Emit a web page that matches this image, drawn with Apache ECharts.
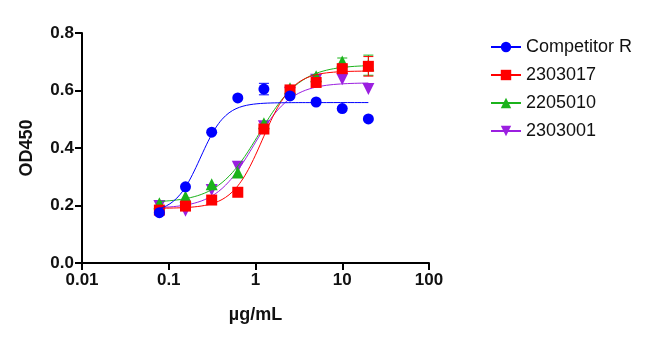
<!DOCTYPE html>
<html><head><meta charset="utf-8">
<script src="https://cdn.jsdelivr.net/npm/echarts@6/dist/echarts.min.js"></script>
<style>html,body{margin:0;padding:0;background:#fff}#c{width:650px;height:343px}</style>
</head><body><div id="c"></div>
<script>
// concentrations (µg/mL)
var conc = [0.078, 0.156, 0.3125, 0.625, 1.25, 2.5, 5, 10, 20];
var seriesNames = ['Competitor R', '2303017', '2205010', '2303001'];
// mean OD450 values
var compR   = [0.175, 0.265, 0.455, 0.574, 0.605, 0.581, 0.560, 0.537, 0.501];
var s2303017 = [0.184, 0.198, 0.219, 0.246, 0.466, 0.602, 0.628, 0.676, 0.684];
var s2205010 = [0.208, 0.231, 0.274, 0.315, 0.486, 0.608, 0.650, 0.701, 0.688];
var s2303001 = [0.198, 0.182, 0.254, 0.335, 0.476, 0.592, 0.637, 0.639, 0.605];
// error bar half-widths (SEM)
var errCompR   = [0, 0, 0, 0, 0.02, 0, 0, 0, 0];
var err2303017 = [0, 0, 0, 0, 0, 0.008, 0, 0.012, 0.034];
var err2205010 = [0, 0, 0, 0, 0, 0, 0, 0.012, 0.035];
var err2303001 = [0, 0, 0, 0, 0, 0, 0, 0, 0];
// fitted 4PL parameters [bottom, top, EC50, hill]
var fitCompR   = [0.175, 0.558, 0.232, 3.0];
var fit2303017 = [0.19, 0.668, 1.2, 2.5];
var fit2205010 = [0.21, 0.689, 1.1, 1.8];
var fit2303001 = [0.19, 0.627, 0.95, 2.0];
// axis ticks
var xTicks = [0.01, 0.1, 1, 10, 100];
var yMin = 0, yMax = 0.8, yStep = 0.2;

var colors = ['#0000ff', '#ff0000', '#1bb31b', '#9b1fe0'];
var symbols = ['circle', 'rect', 'triangle', 'path://M0,0 L10,0 L5,9 Z'];
var sizes = [11, 11, 12, 12];
var means = [compR, s2303017, s2205010, s2303001];
var errs = [errCompR, err2303017, err2205010, err2303001];
var fits = [fitCompR, fit2303017, fit2205010, fit2303001];

function curve(p) {
  var pts = [];
  var lo = Math.log10(conc[0]), hi = Math.log10(conc[conc.length - 1]);
  for (var i = 0; i <= 120; i++) {
    var x = Math.pow(10, lo + (hi - lo) * i / 120);
    pts.push([x, p[0] + (p[1] - p[0]) / (1 + Math.pow(p[2] / x, p[3]))]);
  }
  return pts;
}

var series = [];
var order = [3, 2, 1, 0];
order.forEach(function (k, idx) {
  var c = colors[k];
  series.push({
    name: seriesNames[k], type: 'line', data: curve(fits[k]),
    showSymbol: false, symbol: symbols[k], symbolSize: sizes[k],
    lineStyle: { color: c, width: 1 }, itemStyle: { color: c },
    silent: true, z: 2 + idx * 3, animation: false
  });
  series.push({
    name: seriesNames[k], type: 'custom', z: 3 + idx * 3, silent: true, animation: false,
    data: conc.map(function (x, i) { return [x, means[k][i], errs[k][i]]; }),
    renderItem: function (params, api) {
      var e = api.value(2);
      if (!e) return null;
      var x = api.value(0), y = api.value(1);
      var a = api.coord([x, y + e]), b = api.coord([x, y - e]);
      var st = { stroke: c, lineWidth: 1 };
      return { type: 'group', children: [
        { type: 'line', shape: { x1: a[0], y1: a[1], x2: b[0], y2: b[1] }, style: st },
        { type: 'line', shape: { x1: a[0] - 5, y1: a[1], x2: a[0] + 5, y2: a[1] }, style: st },
        { type: 'line', shape: { x1: b[0] - 5, y1: b[1], x2: b[0] + 5, y2: b[1] }, style: st }
      ]};
    }
  });
  series.push({
    name: seriesNames[k], type: 'scatter', z: 4 + idx * 3, animation: false,
    data: conc.map(function (x, i) { return [x, means[k][i]]; }),
    symbol: symbols[k], symbolSize: sizes[k], itemStyle: { color: c, opacity: 1 }
  });
});

var chart = echarts.init(document.getElementById('c'), null, { renderer: 'canvas' });
chart.setOption({
  animation: false,
  backgroundColor: '#fff',
  color: colors,
  grid: { left: 82, top: 33, width: 347, height: 230, containLabel: false },
  legend: {
    data: seriesNames.slice(),
    orient: 'vertical', left: 485, top: 33, itemGap: 10, itemWidth: 30, itemHeight: 13,
    textStyle: { fontFamily: 'Liberation Sans, Arial', fontSize: 18, color: '#111' },
    selectedMode: false
  },
  xAxis: {
    type: 'log', logBase: 10, min: xTicks[0], max: xTicks[xTicks.length - 1],
    name: 'µg/mL', nameLocation: 'middle', nameGap: 43,
    nameTextStyle: { fontFamily: 'Liberation Sans, Arial', fontWeight: 'bold', fontSize: 18, color: '#111' },
    axisLine: { lineStyle: { color: '#000', width: 2 } },
    axisTick: { show: true, length: 7, lineStyle: { color: '#000', width: 2 } },
    minorTick: { show: false },
    splitLine: { show: false },
    axisLabel: {
      margin: 9, fontFamily: 'Liberation Sans, Arial', fontWeight: 'bold', fontSize: 17, color: '#111',
      formatter: function (v) { return String(+v.toPrecision(3)); }
    }
  },
  yAxis: {
    type: 'value', min: yMin, max: yMax, interval: yStep,
    name: 'OD450', nameLocation: 'middle', nameGap: 46, nameRotate: 90,
    nameTextStyle: { fontFamily: 'Liberation Sans, Arial', fontWeight: 'bold', fontSize: 18, color: '#111' },
    axisLine: { show: true, lineStyle: { color: '#000', width: 2 } },
    axisTick: { show: true, length: 7, lineStyle: { color: '#000', width: 2 } },
    splitLine: { show: false },
    axisLabel: {
      margin: 8, fontFamily: 'Liberation Sans, Arial', fontWeight: 'bold', fontSize: 17, color: '#111',
      formatter: function (v) { return v.toFixed(1); }
    }
  },
  series: series
});
</script></body></html>
